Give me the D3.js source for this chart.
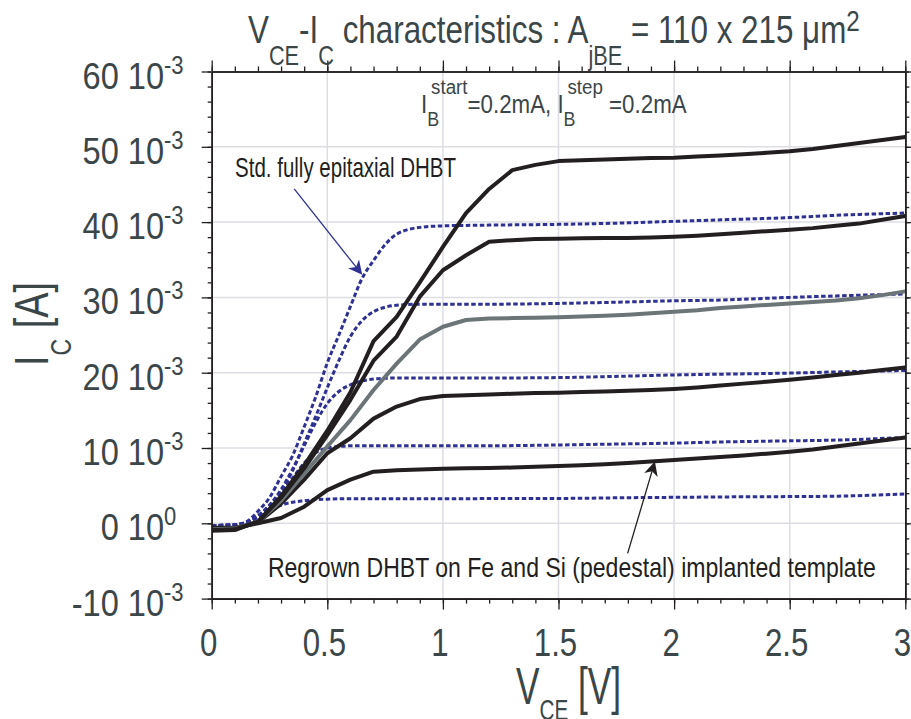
<!DOCTYPE html>
<html>
<head>
<meta charset="utf-8">
<script src="https://cdn.jsdelivr.net/npm/d3@7"></script>
<style>
  body { margin: 0; background: #fff; }
  text { font-family: "Liberation Sans", Arial, sans-serif; }
</style>
</head>
<body>
<svg id="chart" width="911" height="719"></svg>
<script>
// V_CE sweep of the regrown devices (0.1 V steps)
const vceRegrown = [0, 0.1, 0.2, 0.3, 0.4, 0.5, 0.6, 0.7, 0.8, 0.9, 1.0, 1.1, 1.2, 1.3, 1.4, 1.5,
  1.6, 1.7, 1.8, 1.9, 2.0, 2.1, 2.2, 2.3, 2.4, 2.5, 2.6, 2.7, 2.8, 2.9, 3.0];
// I_C in mA, regrown DHBT on Fe/Si implanted template, I_B = 0.2 ... 1.0 mA
const icRegrown02 = [-0.6, -0.6, 0.0, 0.7, 2.2, 4.4, 5.8, 6.85, 7.05, 7.15, 7.25, 7.3, 7.35, 7.4, 7.5, 7.6,
  7.7, 7.85, 8.0, 8.2, 8.4, 8.6, 8.8, 9.0, 9.25, 9.5, 9.8, 10.2, 10.6, 11.0, 11.4];
const icRegrown04 = [-0.7, -0.7, 0.1, 2.6, 5.8, 9.3, 11.3, 13.9, 15.5, 16.5, 16.9, 17.0, 17.1, 17.2, 17.3, 17.35,
  17.45, 17.5, 17.6, 17.7, 17.85, 18.05, 18.3, 18.55, 18.8, 19.05, 19.35, 19.7, 20.0, 20.35, 20.7];
const icRegrown06 = [-0.8, -0.7, 0.2, 3.0, 6.6, 10.2, 13.7, 17.7, 21.2, 24.4, 26.1, 27.0, 27.2, 27.25, 27.3, 27.35,
  27.45, 27.55, 27.7, 27.9, 28.1, 28.3, 28.6, 28.8, 29.0, 29.2, 29.4, 29.6, 29.9, 30.3, 30.8];
const icRegrown08 = [-0.9, -0.8, 0.2, 3.4, 7.3, 11.7, 16.4, 21.6, 24.8, 30.1, 33.6, 35.6, 37.4, 37.6, 37.75, 37.8,
  37.85, 37.9, 37.9, 37.95, 38.05, 38.2, 38.4, 38.6, 38.8, 39.0, 39.2, 39.5, 39.8, 40.3, 40.8];
const icRegrown10 = [-1.0, -0.9, 0.2, 3.6, 7.7, 12.3, 17.4, 24.2, 27.4, 32.0, 36.7, 41.2, 44.4, 46.9, 47.6, 48.1,
  48.2, 48.3, 48.4, 48.5, 48.55, 48.7, 48.85, 49.0, 49.2, 49.4, 49.7, 50.1, 50.5, 50.9, 51.3];

// V_CE sweep of the standard devices
const vceStd = [0, 0.1, 0.15, 0.2, 0.25, 0.3, 0.35, 0.4, 0.45, 0.5, 0.55, 0.6, 0.65, 0.7, 0.75, 0.8,
  0.9, 1.0, 1.2, 1.5, 1.8, 2.0, 2.2, 2.5, 2.7, 3.0];
// I_C in mA, standard fully epitaxial DHBT, I_B = 0.2 ... 1.0 mA
const icStd02 = [-0.3, -0.2, 0.1, 0.8, 1.7, 2.4, 2.8, 3.0, 3.15, 3.2, 3.25, 3.27, 3.27, 3.27, 3.27, 3.27,
  3.27, 3.27, 3.28, 3.3, 3.4, 3.45, 3.5, 3.55, 3.6, 3.9];
const icStd04 = [-0.3, -0.2, 0.1, 0.9, 2.2, 4.0, 6.0, 8.0, 9.4, 10.0, 10.2, 10.3, 10.3, 10.3, 10.3, 10.3,
  10.3, 10.3, 10.3, 10.4, 10.55, 10.65, 10.8, 10.95, 11.05, 11.4];
const icStd06 = [-0.3, -0.2, 0.1, 1.0, 2.4, 4.5, 7.2, 10.3, 13.4, 15.9, 17.5, 18.4, 18.9, 19.15, 19.25, 19.3,
  19.3, 19.3, 19.3, 19.35, 19.55, 19.7, 19.8, 19.95, 20.1, 20.3];
const icStd08 = [-0.3, -0.2, 0.1, 1.0, 2.4, 4.2, 7.0, 10.6, 14.2, 18.0, 21.6, 24.8, 26.9, 28.1, 28.7, 28.95,
  29.1, 29.1, 29.1, 29.2, 29.4, 29.55, 29.65, 30.0, 30.2, 30.45];
const icStd10 = [-0.3, -0.2, 0.2, 1.6, 3.4, 6.2, 9.0, 12.8, 16.8, 21.3, 25.0, 28.8, 32.5, 34.9, 37.0, 38.4,
  39.3, 39.5, 39.6, 39.7, 39.9, 40.1, 40.3, 40.6, 40.9, 41.2];

// Axis ticks and labels
const xTickValues = [0, 0.5, 1, 1.5, 2, 2.5, 3];
const xTickLabels = ["0", "0.5", "1", "1.5", "2", "2.5", "3"];
const yTickValues = [-10, 0, 10, 20, 30, 40, 50, 60];
const yTickMantissas = ["-10 10", "0 10", "10 10", "20 10", "30 10", "40 10", "50 10", "60 10"];
const yTickExponents = ["-3", "0", "-3", "-3", "-3", "-3", "-3", "-3"];

const W = 911, H = 719;
const frame = { left: 211.7, top: 71.5, right: 905.3, bottom: 598.6 };
const INK = "#231f20", LABEL = "#3b4649", BLUE = "#2e3192", GREY = "#6b7477";
const NARROW = 0.86;   // horizontal squeeze giving the condensed lettering

const svg = d3.select("#chart");
svg.append("rect").attr("width", W).attr("height", H).attr("fill", "#fff");

const x = d3.scaleLinear().domain([0, 3]).range([frame.left, frame.right]);
const y = d3.scaleLinear().domain([-10, 60]).range([frame.bottom, frame.top]);

svg.append("clipPath").attr("id", "plotClip").append("rect")
  .attr("x", frame.left).attr("y", frame.top)
  .attr("width", frame.right - frame.left).attr("height", frame.bottom - frame.top);

// grid
const grid = svg.append("g").attr("stroke", "#dddee4").attr("stroke-width", 1.5);
grid.selectAll("line.gx").data(xTickValues.slice(1, -1)).join("line").attr("class", "gx")
  .attr("x1", d => x(d)).attr("x2", d => x(d)).attr("y1", frame.top).attr("y2", frame.bottom);
grid.selectAll("line.gy").data(yTickValues.slice(1, -1)).join("line").attr("class", "gy")
  .attr("y1", d => y(d)).attr("y2", d => y(d)).attr("x1", frame.left).attr("x2", frame.right);

// curves
const plotArea = svg.append("g").attr("clip-path", "url(#plotClip)");
const stdSeries = [icStd02, icStd04, icStd06, icStd08, icStd10];
const regrownSeries = [icRegrown02, icRegrown04, icRegrown06, icRegrown08, icRegrown10];
const regrownColors = [INK, INK, GREY, INK, INK];

const stdLine = d3.line().x(d => x(d[0])).y(d => y(d[1])).curve(d3.curveMonotoneX);
const regLine = d3.line().x(d => x(d[0])).y(d => y(d[1]));

plotArea.selectAll("path.std").data(stdSeries).join("path").attr("class", "std")
  .attr("d", s => stdLine(vceStd.map((v, i) => [v, s[i]])))
  .attr("fill", "none").attr("stroke", BLUE).attr("stroke-width", 3)
  .attr("stroke-dasharray", "4.5,2.5");

plotArea.selectAll("path.reg").data(regrownSeries).join("path").attr("class", "reg")
  .attr("d", s => regLine(vceRegrown.map((v, i) => [v, s[i]])))
  .attr("fill", "none").attr("stroke", (s, i) => regrownColors[i]).attr("stroke-width", 4)
  .attr("stroke-linejoin", "round");

// axes: frame with outward ticks on all four sides
const xMinor = d3.range(0, 3.0001, 0.1);
const yMinor = d3.range(-10, 60.001, 2);
function drawAxis(gen, tx, ty) {
  svg.append("g").attr("transform", `translate(${tx},${ty})`).call(gen)
    .call(g => {
      g.selectAll("text").remove();
      g.select(".domain").attr("stroke", INK).attr("stroke-width", 1.6);
      g.selectAll(".tick line").attr("stroke", INK).attr("stroke-width", 1.3);
    });
}
drawAxis(d3.axisBottom(x).tickValues(xMinor).tickSize(5).tickSizeOuter(0).tickFormat(""), 0, frame.bottom);
drawAxis(d3.axisBottom(x).tickValues(xTickValues).tickSize(11).tickSizeOuter(0).tickFormat(""), 0, frame.bottom);
drawAxis(d3.axisTop(x).tickValues(xMinor).tickSize(5).tickSizeOuter(0).tickFormat(""), 0, frame.top);
drawAxis(d3.axisTop(x).tickValues(xTickValues).tickSize(11).tickSizeOuter(0).tickFormat(""), 0, frame.top);
drawAxis(d3.axisLeft(y).tickValues(yMinor).tickSize(4).tickSizeOuter(0).tickFormat(""), frame.left, 0);
drawAxis(d3.axisLeft(y).tickValues(yTickValues).tickSize(10).tickSizeOuter(0).tickFormat(""), frame.left, 0);
drawAxis(d3.axisRight(y).tickValues(yMinor).tickSize(4).tickSizeOuter(0).tickFormat(""), frame.right, 0);
drawAxis(d3.axisRight(y).tickValues(yTickValues).tickSize(10).tickSizeOuter(0).tickFormat(""), frame.right, 0);

// tick labels (condensed by a horizontal scale)
svg.append("g").selectAll("text").data(xTickValues).join("text")
  .attr("transform", d => `translate(${x(d) - 3},656) scale(0.8,1)`)
  .attr("text-anchor", "middle").attr("font-size", 39).attr("fill", LABEL)
  .text((d, i) => xTickLabels[i]);

const yLab = svg.append("g");
yLab.selectAll("text.m").data(yTickValues).join("text").attr("class", "m")
  .attr("transform", d => `translate(164,${y(d) + 17}) scale(0.88,1)`).attr("text-anchor", "end")
  .attr("font-size", 37).attr("fill", LABEL).text((d, i) => yTickMantissas[i]);
yLab.selectAll("text.e").data(yTickValues).join("text").attr("class", "e")
  .attr("transform", d => `translate(164,${y(d) + 2}) scale(0.88,1)`).attr("text-anchor", "start")
  .attr("font-size", 25).attr("fill", LABEL).text((d, i) => yTickExponents[i]);

// squeeze a text block horizontally to a given width, anchored at (x0, y0)
function fitText(sel, x0, y0, width, rotate) {
  const w = sel.node().getBBox().width;
  const k = width / w;
  sel.attr("transform", `translate(${x0},${y0})${rotate ? " rotate(" + rotate + ")" : ""} scale(${k},1)`);
}

// title
const title = svg.append("text").attr("font-size", 39).attr("fill", LABEL);
title.append("tspan").text("V");
title.append("tspan").attr("font-size", 27).attr("dy", 22).text("CE");
title.append("tspan").attr("dy", -22).text("-I");
title.append("tspan").attr("font-size", 27).attr("dy", 22).text("C");
title.append("tspan").attr("dy", -22).text(" characteristics : A");
title.append("tspan").attr("font-size", 27).attr("dy", 22).text("jBE");
title.append("tspan").attr("dy", -22).text(" = 110 x 215 μm");
title.append("tspan").attr("font-size", 30).attr("dy", -12).text("2");
fitText(title, 248, 43, 612);

// bias conditions
const bias = svg.append("text").attr("font-size", 25).attr("fill", LABEL);
bias.append("tspan").text("I");
bias.append("tspan").attr("font-size", 20).attr("dy", 13).text("B");
bias.append("tspan").attr("font-size", 21).attr("dx", -9).attr("dy", -32).text("start");
bias.append("tspan").attr("dy", 19).text("=0.2mA, I");
bias.append("tspan").attr("font-size", 20).attr("dy", 13).text("B");
bias.append("tspan").attr("font-size", 21).attr("dx", -9).attr("dy", -32).text("step");
bias.append("tspan").attr("dy", 19).text(" =0.2mA");
fitText(bias, 421, 113, 266);

// axis titles
const xTitle = svg.append("text").attr("font-size", 51).attr("fill", LABEL);
xTitle.append("tspan").text("V");
xTitle.append("tspan").attr("font-size", 30).attr("dy", 16).text("CE");
xTitle.append("tspan").attr("dy", -16).text(" [V]");
fitText(xTitle, 516, 704, 105);

const yTitle = svg.append("text").attr("font-size", 49).attr("fill", LABEL);
yTitle.append("tspan").text("I");
yTitle.append("tspan").attr("font-size", 30).attr("dy", 23).text("C");
yTitle.append("tspan").attr("dy", -23).text(" [A]");
fitText(yTitle, 48, 366, 84, -90);

// annotations with arrows (positions in data units)
function arrow(from, to, color) {
  const x0 = x(from[0]), y0 = y(from[1]), x1 = x(to[0]), y1 = y(to[1]);
  const dx = x1 - x0, dy = y1 - y0, len = Math.hypot(dx, dy);
  const ux = dx / len, uy = dy / len, px = -uy, py = ux;
  const L = 14, Wd = 7, notch = 10;
  svg.append("line").attr("x1", x0).attr("y1", y0)
    .attr("x2", x1 - ux * notch).attr("y2", y1 - uy * notch)
    .attr("stroke", color).attr("stroke-width", 1.3);
  const pts = [[x1, y1], [x1 - ux * L + px * Wd, y1 - uy * L + py * Wd],
    [x1 - ux * notch, y1 - uy * notch], [x1 - ux * L - px * Wd, y1 - uy * L - py * Wd]];
  svg.append("path").attr("d", "M" + pts.map(p => p.join(",")).join("L") + "Z").attr("fill", color);
}
arrow([0.357, 44.4], [0.651, 33.0], BLUE);
arrow([1.799, -4.0], [1.917, 8.2], INK);

svg.append("text").attr("x", x(0.101)).attr("y", y(46.0)).attr("font-size", 28).attr("fill", INK)
  .attr("textLength", 221).attr("lengthAdjust", "spacingAndGlyphs").text("Std. fully epitaxial DHBT");
svg.append("text").attr("x", x(0.243)).attr("y", y(-7.1)).attr("font-size", 28).attr("fill", INK)
  .attr("textLength", 608).attr("lengthAdjust", "spacingAndGlyphs")
  .text("Regrown DHBT on Fe and Si (pedestal) implanted template");
</script>
</body>
</html>
